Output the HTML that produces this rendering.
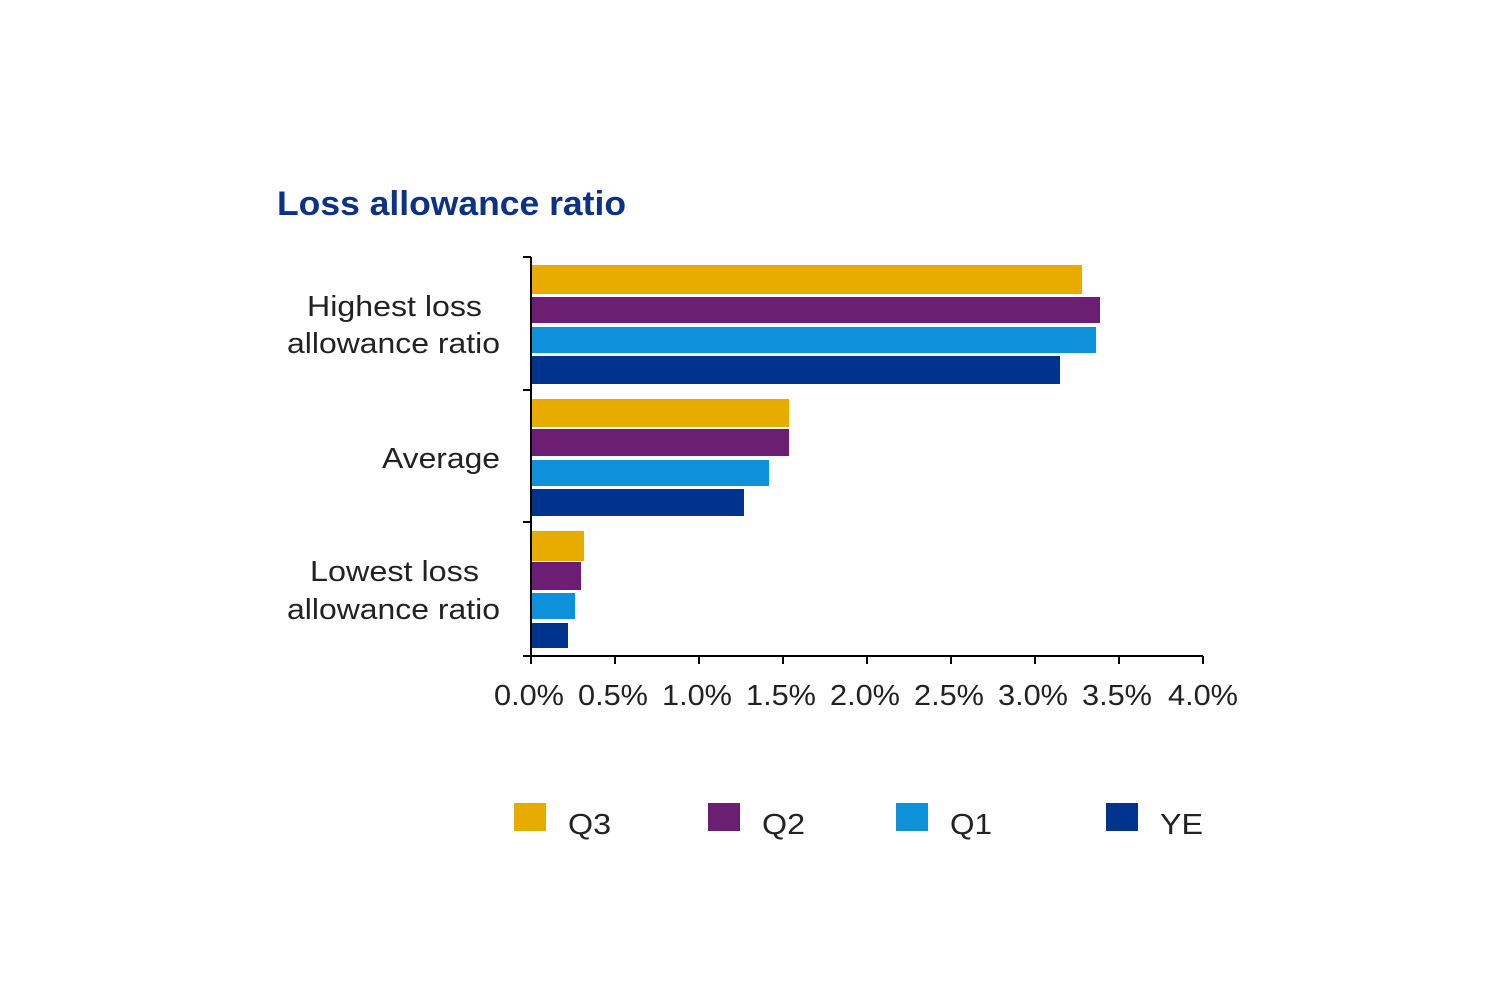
<!DOCTYPE html>
<html><head><meta charset="utf-8"><style>
html,body{margin:0;padding:0;background:#fff;}
svg{display:block;}
text{font-family:"Liberation Sans",Arial,sans-serif;}
</style></head><body>
<svg width="1500" height="1002" viewBox="0 0 1500 1002" xmlns="http://www.w3.org/2000/svg">
<rect width="1500" height="1002" fill="#fff"/>
<text x="277" y="215" font-size="34" font-weight="bold" fill="#0B3286" textLength="349" lengthAdjust="spacingAndGlyphs">Loss allowance ratio</text>
<g>
<rect x="532" y="265" width="550" height="29" fill="#E8AB00"/>
<rect x="532" y="297" width="568" height="26" fill="#6B1F73"/>
<rect x="532" y="327" width="564" height="26" fill="#0F91DA"/>
<rect x="532" y="356" width="528" height="28" fill="#00338D"/>
<rect x="532" y="399" width="257" height="28" fill="#E8AB00"/>
<rect x="532" y="429" width="257" height="27" fill="#6B1F73"/>
<rect x="532" y="460" width="237" height="26" fill="#0F91DA"/>
<rect x="532" y="489" width="212" height="27" fill="#00338D"/>
<rect x="532" y="531" width="52" height="30" fill="#E8AB00"/>
<rect x="532" y="562" width="49" height="28" fill="#6B1F73"/>
<rect x="532" y="593" width="43" height="26" fill="#0F91DA"/>
<rect x="532" y="623" width="36" height="25" fill="#00338D"/>
</g>
<g stroke="#000" stroke-width="2" fill="none">
<line x1="531" y1="257" x2="531" y2="657"/>
<line x1="531" y1="656" x2="1203" y2="656"/>
<line x1="523" y1="257" x2="531" y2="257"/>
<line x1="523" y1="390" x2="531" y2="390"/>
<line x1="523" y1="522" x2="531" y2="522"/>
<line x1="523" y1="656" x2="531" y2="656"/>
<line x1="531" y1="656" x2="531" y2="664"/>
<line x1="615" y1="656" x2="615" y2="664"/>
<line x1="699" y1="656" x2="699" y2="664"/>
<line x1="783" y1="656" x2="783" y2="664"/>
<line x1="867" y1="656" x2="867" y2="664"/>
<line x1="951" y1="656" x2="951" y2="664"/>
<line x1="1035" y1="656" x2="1035" y2="664"/>
<line x1="1119" y1="656" x2="1119" y2="664"/>
<line x1="1203" y1="656" x2="1203" y2="664"/>
</g>
<g font-size="29" fill="#222">
<text x="494" y="705" textLength="70" lengthAdjust="spacingAndGlyphs">0.0%</text>
<text x="578" y="705" textLength="70" lengthAdjust="spacingAndGlyphs">0.5%</text>
<text x="662" y="705" textLength="70" lengthAdjust="spacingAndGlyphs">1.0%</text>
<text x="746" y="705" textLength="70" lengthAdjust="spacingAndGlyphs">1.5%</text>
<text x="830" y="705" textLength="70" lengthAdjust="spacingAndGlyphs">2.0%</text>
<text x="914" y="705" textLength="70" lengthAdjust="spacingAndGlyphs">2.5%</text>
<text x="998" y="705" textLength="70" lengthAdjust="spacingAndGlyphs">3.0%</text>
<text x="1082" y="705" textLength="70" lengthAdjust="spacingAndGlyphs">3.5%</text>
<text x="1168" y="705" textLength="70" lengthAdjust="spacingAndGlyphs">4.0%</text>
</g>
<g font-size="29" fill="#222">
<text x="307" y="316" textLength="175" lengthAdjust="spacingAndGlyphs">Highest loss</text>
<text x="287" y="353" textLength="213" lengthAdjust="spacingAndGlyphs">allowance ratio</text>
<text x="382" y="468" textLength="118" lengthAdjust="spacingAndGlyphs">Average</text>
<text x="310" y="581" textLength="169" lengthAdjust="spacingAndGlyphs">Lowest loss</text>
<text x="287" y="619" textLength="213" lengthAdjust="spacingAndGlyphs">allowance ratio</text>
</g>
<rect x="514" y="803" width="32" height="28" fill="#E8AB00"/>
<rect x="708" y="803" width="32" height="28" fill="#6B1F73"/>
<rect x="896" y="803" width="32" height="28" fill="#0F91DA"/>
<rect x="1106" y="803" width="32" height="28" fill="#00338D"/>
<g font-size="29" fill="#222">
<text x="568" y="834" textLength="43" lengthAdjust="spacingAndGlyphs">Q3</text>
<text x="762" y="834" textLength="43" lengthAdjust="spacingAndGlyphs">Q2</text>
<text x="950" y="834" textLength="42" lengthAdjust="spacingAndGlyphs">Q1</text>
<text x="1160" y="834" textLength="43" lengthAdjust="spacingAndGlyphs">YE</text>
</g>
</svg>
</body></html>
